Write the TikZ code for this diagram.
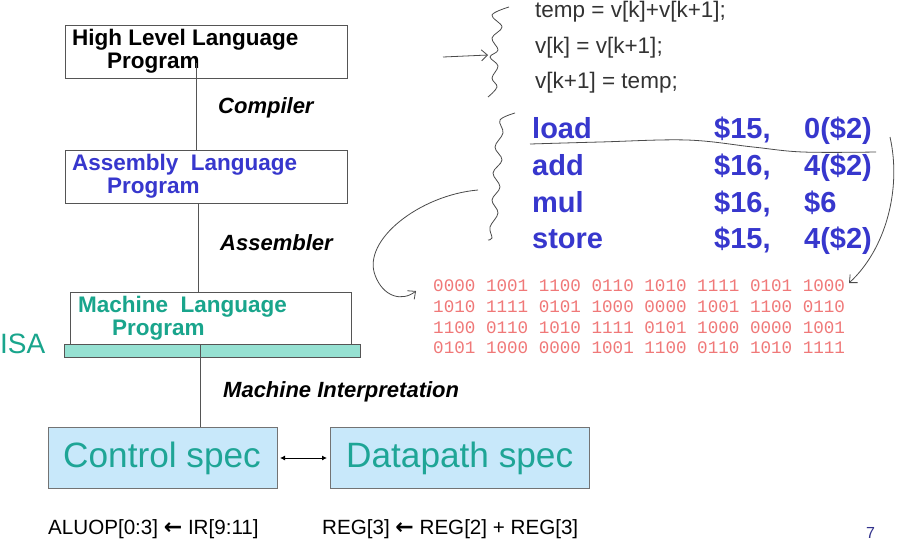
\documentclass[tikz,border=0pt]{standalone}
\usepackage{fontspec}
\setmainfont{Liberation Sans}
\newfontfamily\monof{Liberation Mono}
\newfontfamily\dejavu{DejaVu Sans}
\usetikzlibrary{arrows.meta}
\definecolor{asmblue}{RGB}{55,55,205}
\definecolor{tealtxt}{RGB}{25,165,140}
\definecolor{specteal}{RGB}{30,165,150}
\definecolor{specfill}{RGB}{200,232,250}
\definecolor{isafill}{RGB}{150,225,210}
\definecolor{binred}{RGB}{240,120,120}
\definecolor{handgray}{RGB}{75,75,75}
\definecolor{boxgray}{RGB}{85,85,85}
\definecolor{pagenum}{RGB}{50,50,140}
\begin{document}
\begin{tikzpicture}[x=1pt,y=-1pt,
  box/.style={draw=boxgray, line width=1pt, inner sep=0pt, anchor=north west},
  specbox/.style={box, fill=specfill, draw=gray!90!black},
  txt/.style={anchor=base west, inner sep=0pt},
  boxtxt/.style={txt, font=\fontsize{22.5}{25}\selectfont\bfseries},
  lbl/.style={txt, font=\fontsize{22}{25}\selectfont\bfseries\itshape},
  spectxt/.style={txt, text=specteal, font=\fontsize{35.2}{38}\selectfont},
  ctxt/.style={txt, text=black!80, font=\fontsize{22.5}{25}\selectfont},
  asmtxt/.style={txt, text=asmblue, font=\fontsize{29}{32}\selectfont\bfseries},
  bintxt/.style={txt, text=binred, font=\fontsize{17.6}{20}\selectfont\monof},
  bottxt/.style={txt, font=\fontsize{20.6}{24}\selectfont},
  conn/.style={draw=boxgray, line width=1pt},
  hand/.style={draw=handgray, line width=0.8pt},
  handarrow/.style={hand, -{Straight Barb[length=6pt,width=11pt]}}
]
\useasboundingbox (0,0) rectangle (899,542);
\fill[white] (0,0) rectangle (899,542);

% ---- left stack ----
\node[box, minimum width=282pt, minimum height=53pt] (hll) at (65,25) {};
\node[boxtxt] (hll1) at (72,45) {High Level Language};
\node[boxtxt] (hll2) at (107,68) {Program};

\node[box, minimum width=282pt, minimum height=53pt] (asm) at (65,150) {};
\node[boxtxt, text=asmblue] (asm1) at (72,170) {Assembly\ \ Language};
\node[boxtxt, text=asmblue] (asm2) at (107,193) {Program};

\node[box, minimum width=281pt, minimum height=53pt] (mach) at (70,292) {};
\node[boxtxt, text=tealtxt] (mach1) at (78,312) {Machine\ \ Language};
\node[boxtxt, text=tealtxt] (mach2) at (112,335) {Program};

\node[box, fill=isafill, minimum width=296pt, minimum height=13pt] (isa) at (64,344) {};
\node[txt, text=tealtxt, font=\fontsize{28}{30}\selectfont] (isal) at (0,353) {ISA};

\node[specbox, minimum width=229pt, minimum height=61pt] (ctrl) at (48,427) {};
\node[spectxt] (ctrlt) at (63,467) {Control spec};
\node[specbox, minimum width=259pt, minimum height=61pt] (dp) at (330,427) {};
\node[spectxt] (dpt) at (346,467) {Datapath spec};

\coordinate (c1) at (196,63);
\coordinate (c2) at (198,203);
\coordinate (c3) at (200,345);
\draw[conn] (c1) -- (c1 |- asm.north);
\draw[conn] (c2) -- (c2 |- mach.north);
\draw[conn] (c3) -- (c3 |- ctrl.north);

\node[lbl] (comp) at (218,113) {Compiler};
\node[lbl] (assm) at (220,250) {Assembler};
\node[lbl] (interp) at (223,397) {Machine Interpretation};

\draw[line width=0.9pt, shorten <=2pt, shorten >=3pt, {Latex[length=5pt,width=5pt]}-{Latex[length=5pt,width=5pt]}] (ctrl.east) -- (dp.west);

\node[bottxt] (b1) at (48,534) {ALUOP[0:3] {\dejavu\bfseries\fontsize{22}{24}\selectfont ←} IR[9:11]};
\node[bottxt] (b2) at (322,534) {REG[3] {\dejavu\bfseries\fontsize{22}{24}\selectfont ←} REG[2] + REG[3]};
\node[txt, text=pagenum, font=\fontsize{16}{18}\selectfont] (pg) at (866,538) {7};

% ---- right side ----
\node[ctxt] (cc1) at (535,17) {temp = v[k]+v[k+1];};
\node[ctxt] (cc2) at (535,53) {v[k] = v[k+1];};
\node[ctxt] (cc3) at (535,88) {v[k+1] = temp;};

\node[asmtxt] (op1) at (532,138) {load};
\node[asmtxt] (op2) at (532,175) {add};
\node[asmtxt] (op3) at (532,212) {mul};
\node[asmtxt] (op4) at (532,248) {store};
\node[asmtxt] (r1) at (714,138) {\$15,};
\node[asmtxt] (r2) at (714,175) {\$16,};
\node[asmtxt] (r3) at (714,212) {\$16,};
\node[asmtxt] (r4) at (714,248) {\$15,};
\node[asmtxt] (i1) at (804,138) {0(\$2)};
\node[asmtxt] (i2) at (804,175) {4(\$2)};
\node[asmtxt] (i3) at (804,212) {\$6};
\node[asmtxt] (i4) at (804,248) {4(\$2)};

\node[bintxt] (bin1) at (433,291) {0000 1001 1100 0110 1010 1111 0101 1000};
\node[bintxt] (bin2) at (433,312) {1010 1111 0101 1000 0000 1001 1100 0110};
\node[bintxt] (bin3) at (433,333) {1100 0110 1010 1111 0101 1000 0000 1001};
\node[bintxt] (bin4) at (433,353) {0101 1000 0000 1001 1100 0110 1010 1111};

% hand-drawn marks
\draw[hand] plot[smooth, tension=0.6] coordinates {(509,7) (492,15) (502,27) (492,38) (498,50) (490,57) (498,66) (492,78) (497,87) (488,97)};
\coordinate (ha0) at (443,57);
\coordinate (ha1) at (488,55);
\draw[handarrow] (ha0) -- (ha1);

\draw[hand] plot[smooth, tension=0.6] coordinates {(515,113) (500,120) (503,133) (495,147) (502,160) (493,173) (500,187) (492,200) (498,213) (490,227) (492,238) (488,240)};

\draw[hand] plot[smooth, tension=0.6] coordinates {(530,144) (600,142) (687,140) (753,147) (803,152) (876,152)};

\coordinate (la0) at (478,190);
\coordinate (la1) at (416,291);
\draw[handarrow] (la0) .. controls (420,195) and (362,240) .. (375,275) .. controls (383,297) and (402,302) .. (la1);

\coordinate (ra0) at (890,137);
\coordinate (ra1) at (849,283);
\draw[handarrow] (ra0) .. controls (902,190) and (885,250) .. (ra1);
\end{tikzpicture}
\end{document}
